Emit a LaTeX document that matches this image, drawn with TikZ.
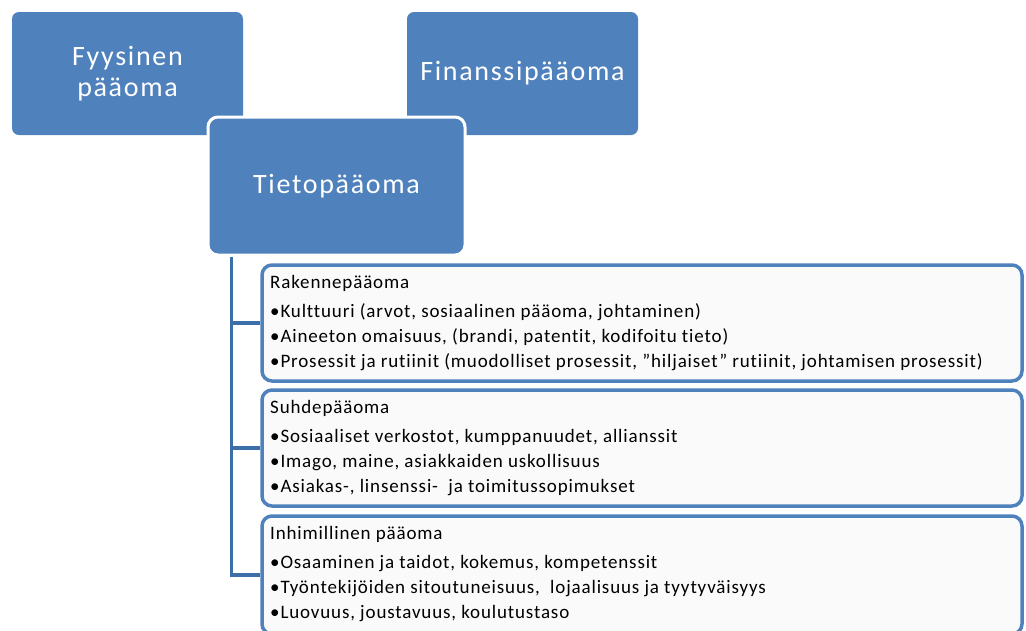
\documentclass[tikz,border=0pt]{standalone}
\usepackage{fontspec}
\setmainfont{Carlito}[Ligatures={NoCommon}]
\definecolor{accent}{HTML}{4F81BD}
\definecolor{trunkblue}{HTML}{3C6EA8}
\definecolor{panelfill}{HTML}{FAFAFA}
\begin{document}
\begin{tikzpicture}[x=1pt,y=-1pt,
  topbox/.style={rectangle, rounded corners=7pt, fill=accent, text=white,
    align=center, font=\fontsize{28}{31}\selectfont\addfontfeature{LetterSpace=6}, inner sep=0pt},
  panel/.style={rectangle, rounded corners=10pt, draw=accent, line width=3.5pt,
    fill=panelfill, inner sep=0pt},
  paneltext/.style={anchor=north west, align=left, inner sep=0pt,
    font=\fontsize{19}{25}\selectfont\addfontfeature{LetterSpace=4.5}},
  conn/.style={draw=trunkblue, line width=3.5pt}]
  \useasboundingbox (0,0) rectangle (1026,630);
  \clip (0,0) rectangle (1026,630);

  % upper capital boxes
  \node[topbox, minimum width=231pt, minimum height=123pt] (fyys) at (127.5,73.5) {Fyysinen\\pääoma};
  \node[topbox, minimum width=231pt, minimum height=123pt] (fin) at (522.5,73.5) {Finanssipääoma};
  \node[topbox, draw=white, line width=3pt, rounded corners=10pt,
    minimum width=257pt, minimum height=138pt] (tp) at (336.5,186) {Tietopääoma};

  % component panels
  \node[panel, minimum width=760pt, minimum height=116pt] (b1) at (642,323) {};
  \node[panel, minimum width=760pt, minimum height=116pt] (b2) at (642,448) {};
  \node[panel, minimum width=760pt, minimum height=118pt] (b3) at (642,575) {};

  \node[paneltext] (t1) at (270,275) {Rakennepääoma\\[4pt]
    •Kulttuuri (arvot, sosiaalinen pääoma, johtaminen)\\
    •Aineeton omaisuus, (brandi, patentit, kodifoitu tieto)\\
    •Prosessit ja rutiinit (muodolliset prosessit, ”hiljaiset” rutiinit, johtamisen prosessit)};
  \node[paneltext] (t2) at (270,400) {Suhdepääoma\\[4pt]
    •Sosiaaliset verkostot, kumppanuudet, allianssit\\
    •Imago, maine, asiakkaiden uskollisuus\\
    •Asiakas-, linsenssi-\ \ ja toimitussopimukset};
  \node[paneltext] (t3) at (270,526) {Inhimillinen pääoma\\[4pt]
    •Osaaminen ja taidot, kokemus, kompetenssit\\
    •Työntekijöiden sitoutuneisuus,\ \ lojaalisuus ja tyytyväisyys\\
    •Luovuus, joustavuus, koulutustaso};

  % tree connector
  \coordinate (trunk) at ([xshift=25pt]tp.south west);
  \draw[conn] (trunk) |- (b3.west);
  \draw[conn] (trunk |- b1.west) -- (b1.west);
  \draw[conn] (trunk |- b2.west) -- (b2.west);
\end{tikzpicture}
\end{document}
